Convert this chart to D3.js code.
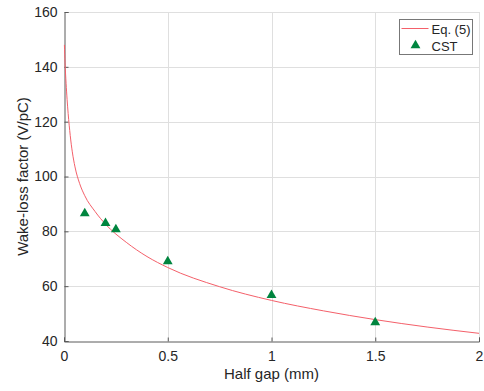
<!DOCTYPE html>
<html>
<head>
<meta charset="utf-8">
<script src="https://cdn.jsdelivr.net/npm/d3@7"></script>
<style>
  body { margin: 0; background: #fff; }
  text { font-family: "Liberation Sans", Arial, sans-serif; fill: #262626; }
</style>
</head>
<body>
<svg id="chart" width="484" height="391"></svg>
<script>
// Eq. (5) curve
var curveGap = [0.002, 0.005, 0.01, 0.015, 0.02, 0.03, 0.04, 0.053, 0.075, 0.1, 0.15, 0.2, 0.3, 0.4, 0.5, 0.75, 1, 1.25, 1.5, 1.75, 2];
var curveK   = [148, 141.5, 134, 128, 123, 115, 109, 103.5, 97.5, 93, 87.2, 82.6, 76, 70.8, 66.8, 59.8, 54.8, 51, 47.8, 45.1, 42.8];

// CST simulation points
var cstGap = [0.1, 0.2, 0.25, 0.5, 1, 1.5];
var cstK   = [86.5, 83, 80.7, 69, 56.7, 46.8];

var xTicks = [0, 0.5, 1, 1.5, 2];
var yTicks = [40, 60, 80, 100, 120, 140, 160];

var margin = { left: 64, right: 5, top: 12, bottom: 50 };
var width = 484, height = 391;

var svg = d3.select('#chart');

var x = d3.scaleLinear().domain([0, 2]).range([margin.left, width - margin.right]);
var y = d3.scaleLinear().domain([40, 160]).range([height - margin.bottom, margin.top]);

var gridColor = '#dfdfdf';
var axisColor = '#5a5a5a';

// grid
svg.append('g').selectAll('line').data(xTicks.slice(1)).enter()
    .append('line')
        .attr('x1', function(d) { return Math.round(x(d)) + 0.5; })
        .attr('x2', function(d) { return Math.round(x(d)) + 0.5; })
        .attr('y1', y(40))
        .attr('y2', y(160))
        .attr('stroke', gridColor);

svg.append('g').selectAll('line').data(yTicks.slice(1)).enter()
    .append('line')
        .attr('x1', x(0))
        .attr('x2', x(2))
        .attr('y1', function(d) { return Math.round(y(d)) + 0.5; })
        .attr('y2', function(d) { return Math.round(y(d)) + 0.5; })
        .attr('stroke', gridColor);

// axes
var xAxis = d3.axisBottom(x).tickValues(xTicks).tickSize(-4).tickPadding(10)
    .tickFormat(function(d) { return String(d); });
var gx = svg.append('g')
    .attr('transform', 'translate(0,' + (Math.round(y(40)) + 0.5) + ')')
    .call(xAxis);

var yAxis = d3.axisLeft(y).tickValues(yTicks).tickSize(-4).tickPadding(7);
var gy = svg.append('g')
    .attr('transform', 'translate(' + (Math.round(x(0)) + 0.5) + ',0)')
    .call(yAxis);

[gx, gy].forEach(function(g) {
    g.select('.domain').attr('stroke', axisColor);
    g.selectAll('.tick line').attr('stroke', axisColor);
    g.selectAll('.tick text')
        .attr('font-size', 14)
        .attr('font-family', '"Liberation Sans", Arial, sans-serif')
        .attr('fill', '#262626');
});

// axis titles
svg.append('text')
    .attr('x', x(1))
    .attr('y', 379)
    .attr('text-anchor', 'middle')
    .attr('font-size', 15)
    .text('Half gap (mm)');

svg.append('text')
    .attr('transform', 'translate(28,' + y(100) + ') rotate(-90)')
    .attr('text-anchor', 'middle')
    .attr('font-size', 15)
    .text('Wake-loss factor (V/pC)');

// curve
var lineColor = '#f4606a';
var markColor = '#00853f';

var line = d3.line()
    .x(function(d) { return x(d[0]); })
    .y(function(d) { return y(d[1]); })
    .curve(d3.curveMonotoneX);

svg.append('path')
    .datum(d3.zip(curveGap, curveK))
    .attr('d', line)
    .attr('fill', 'none')
    .attr('stroke', lineColor)
    .attr('stroke-width', 1);

// markers
var tri = d3.symbol().type(d3.symbolTriangle).size(42);
svg.append('g').selectAll('path').data(d3.zip(cstGap, cstK)).enter()
    .append('path')
        .attr('d', tri)
        .attr('transform', function(d) { return 'translate(' + x(d[0]) + ',' + y(d[1]) + ')'; })
        .attr('fill', markColor);

// legend
var leg = svg.append('g').attr('transform', 'translate(399.5,19.5)');
leg.append('rect')
    .attr('width', 73)
    .attr('height', 35)
    .attr('fill', '#fff')
    .attr('stroke', '#777');
leg.append('line')
    .attr('x1', 2).attr('x2', 29)
    .attr('y1', 9).attr('y2', 9)
    .attr('stroke', lineColor);
leg.append('text')
    .attr('x', 32).attr('y', 14)
    .attr('font-size', 13)
    .text('Eq. (5)');
leg.append('path')
    .attr('d', tri)
    .attr('transform', 'translate(16,26)')
    .attr('fill', markColor);
leg.append('text')
    .attr('x', 32).attr('y', 31)
    .attr('font-size', 13)
    .text('CST');
</script>
</body>
</html>
